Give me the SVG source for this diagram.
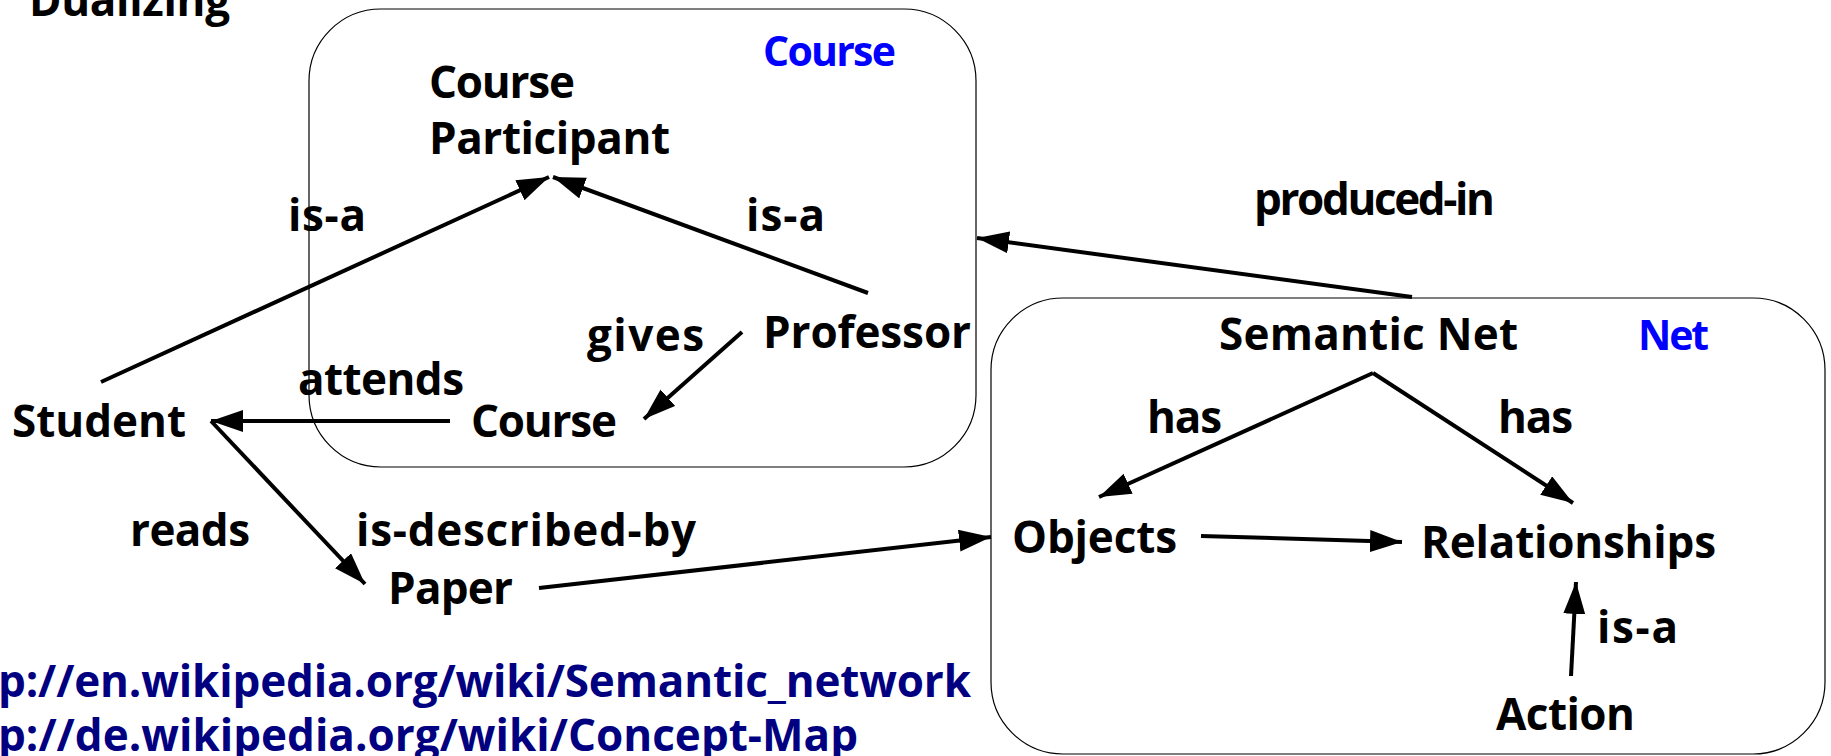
<svg xmlns="http://www.w3.org/2000/svg" width="1831" height="756" viewBox="0 0 1831 756">
<style>
text{font-family:"Open Sans","DejaVu Sans",sans-serif;font-weight:700;font-size:44px;fill:#000}
.blue{fill:#0000ff;font-size:41px}
.url{fill:#000080}
.box{fill:none;stroke:#000;stroke-width:1.2}
.c{fill:none;stroke:#000;stroke-width:4}
</style>
<defs>
<marker id="ah" markerUnits="userSpaceOnUse" markerWidth="34" markerHeight="24" refX="32" refY="11" orient="auto">
<path d="M0,0 L32,11 L0,22 z" fill="#000"/>
</marker>
</defs>
<rect width="1831" height="756" fill="#fff"/>
<text id="title" x="29" y="16" textLength="201">Dualizing</text>
<g id="course-box"><rect class="box" x="309" y="9" width="667" height="458" rx="72" ry="72"/><text class="blue" x="763" y="66" textLength="133">Course</text></g>
<g id="net-box"><rect class="box" x="991" y="298" width="834" height="456" rx="72" ry="72"/><text class="blue" x="1638" y="350" textLength="71">Net</text></g>
<g id="connectors">
<line class="c" x1="101" y1="382" x2="549" y2="177" marker-end="url(#ah)"/>
<line class="c" x1="868" y1="293" x2="553" y2="177" marker-end="url(#ah)"/>
<line class="c" x1="742" y1="332" x2="644" y2="419" marker-end="url(#ah)"/>
<line class="c" x1="450" y1="421" x2="211" y2="421" marker-end="url(#ah)"/>
<line class="c" x1="211" y1="421" x2="365" y2="584" marker-end="url(#ah)"/>
<line class="c" x1="539" y1="588" x2="991" y2="537" marker-end="url(#ah)"/>
<line class="c" x1="1412" y1="297" x2="977" y2="238" marker-end="url(#ah)"/>
<line class="c" x1="1373" y1="373" x2="1099" y2="497" marker-end="url(#ah)"/>
<line class="c" x1="1373" y1="373" x2="1573" y2="503" marker-end="url(#ah)"/>
<line class="c" x1="1201" y1="536" x2="1402" y2="542" marker-end="url(#ah)"/>
<line class="c" x1="1571" y1="676" x2="1576" y2="582" marker-end="url(#ah)"/>
<text x="288" y="231" textLength="78">is-a</text>
<text x="746" y="231" textLength="79">is-a</text>
<text x="587" y="351" textLength="117">gives</text>
<text x="298" y="395" textLength="166">attends</text>
<text x="130" y="546" textLength="120">reads</text>
<text x="356" y="546" textLength="340">is-described-by</text>
<text x="1254" y="215" textLength="241">produced-in</text>
<text x="1147" y="433" textLength="75">has</text>
<text x="1498" y="433" textLength="75">has</text>
<text x="1597" y="643" textLength="81">is-a</text>
</g>
<g id="course-participant"><text x="429" y="98" textLength="146">Course</text><text x="429" y="154" textLength="241">Participant</text></g>
<g id="professor"><text x="763" y="348" textLength="208">Professor</text></g>
<g id="student"><text x="12" y="437" textLength="174">Student</text></g>
<g id="course"><text x="471" y="437" textLength="146">Course</text></g>
<g id="paper"><text x="388" y="604" textLength="125">Paper</text></g>
<g id="semantic-net"><text x="1219" y="350" textLength="299">Semantic Net</text></g>
<g id="objects"><text x="1012" y="553" textLength="165">Objects</text></g>
<g id="relationships"><text x="1421" y="558" textLength="295">Relationships</text></g>
<g id="action"><text x="1496" y="730" textLength="139">Action</text></g>
<g id="links">
<text class="url" x="-2" y="697" textLength="973">p://en.wikipedia.org/wiki/Semantic_network</text>
<text class="url" x="-2" y="751" textLength="860">p://de.wikipedia.org/wiki/Concept-Map</text>
</g>
</svg>
